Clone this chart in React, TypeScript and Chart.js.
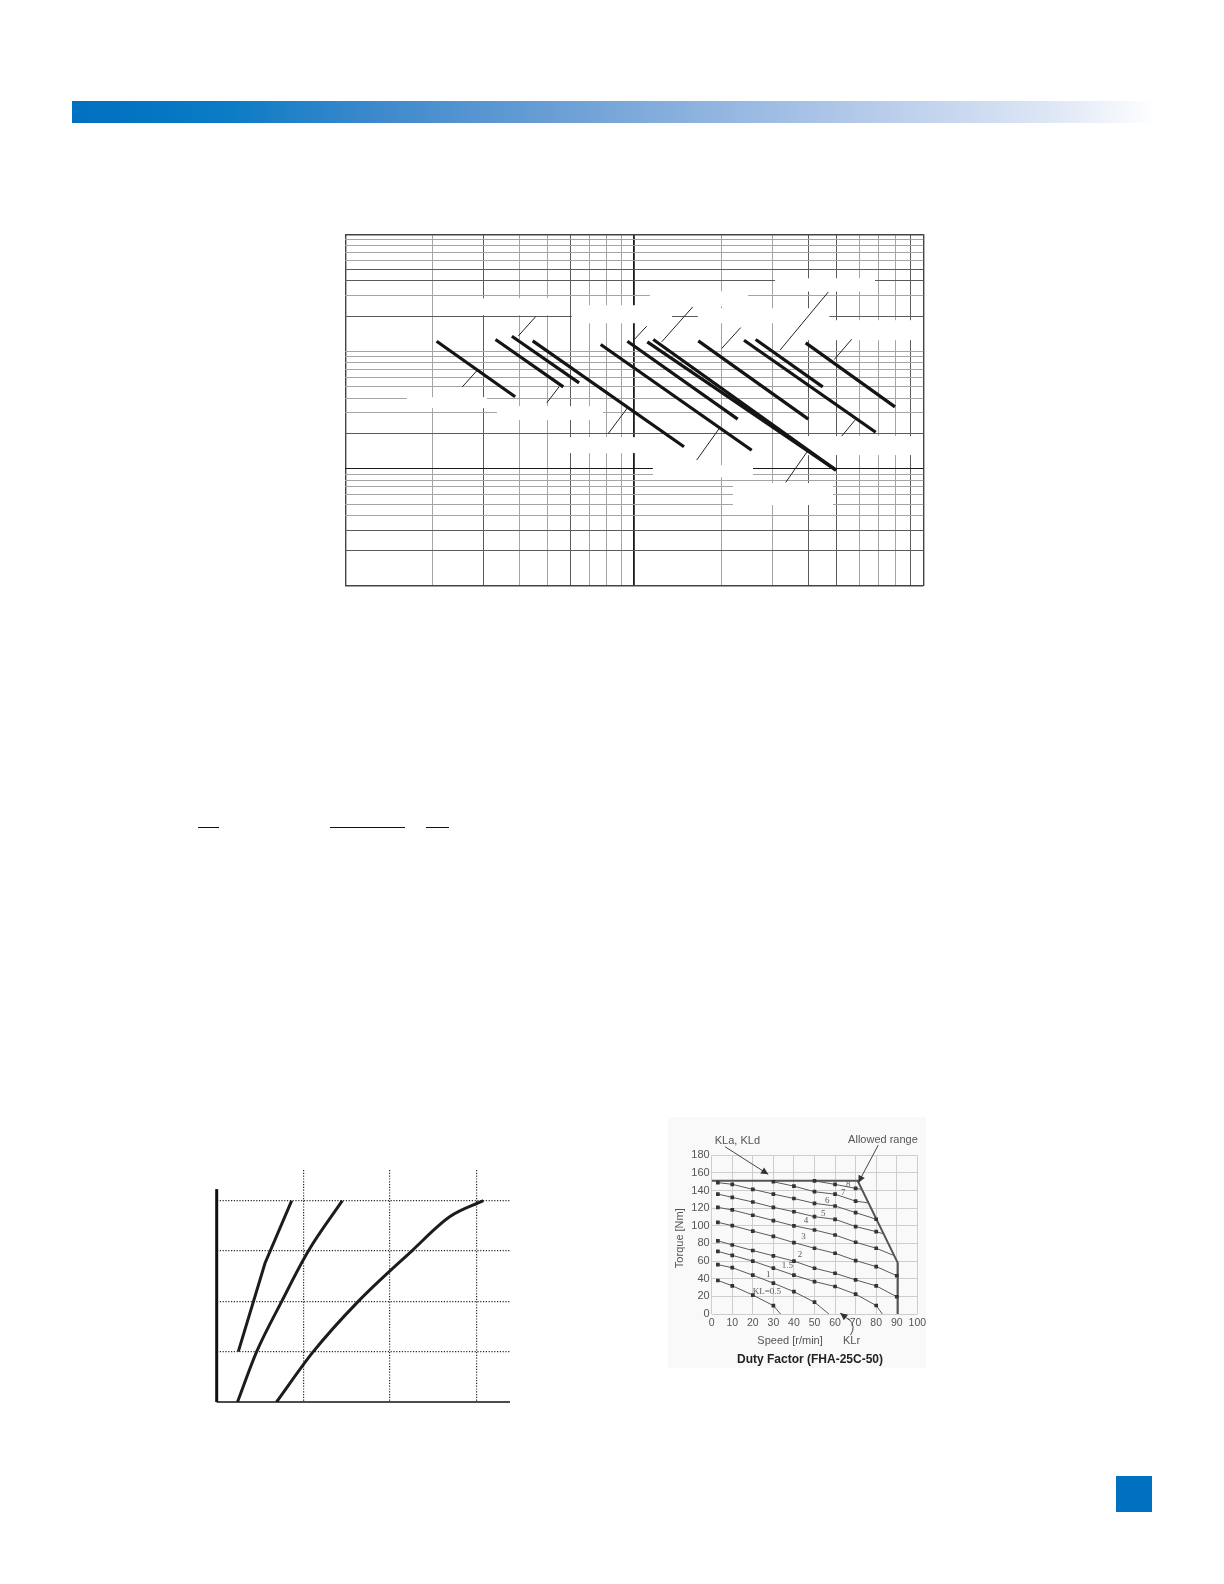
import React, { useEffect, useRef } from "react";
import { Chart, registerables } from "chart.js";

Chart.register(...registerables);
Chart.defaults.font.family = "'Liberation Sans', Arial, sans-serif";

// ---------------- Log-log rating chart ----------------
const logXTicks = [1, 2, 3, 4, 5, 6, 7, 8, 9, 10, 20, 30, 40, 50, 60, 70, 80, 90, 100];
const logYTicks = [1, 2, 3, 4, 5, 6, 7, 8, 9, 10, 20, 30, 40, 50, 60, 70, 80, 90, 100, 200, 300, 400, 500, 600, 700, 800, 900, 1000];
const darkXTicks = [3, 6, 40, 50, 90];
const darkYTicks = [2, 3, 10, 20, 200, 400, 500];
// [x1, y1, x2, y2]
const ratingSegments = [
  [2.07, 122.5, 3.87, 41.1],
  [3.31, 126.6, 5.68, 50.0],
  [3.77, 135.1, 6.44, 54.0],
  [4.45, 123.2, 14.86, 15.4],
  [7.65, 114.8, 25.48, 14.4],
  [9.46, 122.5, 22.79, 26.5],
  [11.09, 120.9, 49.89, 9.74],
  [11.63, 126.6, 49.89, 9.74],
  [16.65, 123.2, 40.0, 26.5],
  [23.97, 124.9, 68.44, 20.5],
  [26.3, 126.6, 44.87, 50.0],
  [39.18, 118.5, 79.8, 33.75],
];
const leaderLines = [
  [4.56, 198.9, 3.97, 135.9],
  [2.85, 68.4, 2.54, 49.95],
  [5.49, 49.95, 4.98, 36.5],
  [9.49, 33.3, 8.13, 20.0],
  [11.04, 164.4, 10.0, 126.6],
  [15.93, 240.2, 12.44, 120.9],
  [23.35, 160.2, 20.06, 106.2],
  [46.92, 322.3, 31.93, 102.7],
  [56.53, 127.4, 49.2, 85.5],
  [19.68, 22.1, 16.44, 11.86],
  [40.0, 14.43, 33.41, 7.65],
  [58.03, 25.98, 52.2, 18.98],
];
// blank label areas [x1, x2, yTop, yBottom]
const labelMasks = [
  [2.06, 5.99, 284.8, 204.0],
  [6.08, 13.5, 248.3, 174.4],
  [11.33, 24.74, 326.7, 243.5],
  [16.6, 47.3, 234, 174.4],
  [30.69, 68.06, 421.8, 324.9],
  [39.5, 97.4, 185, 124.9],
  [1.635, 3.093, 40.8, 32.9],
  [3.349, 7.795, 34.2, 26.0],
  [5.666, 11.33, 18.62, 13.6],
  [11.6, 25.75, 10.75, 8.49],
  [21.95, 48.7, 7.55, 4.9],
  [39.5, 91.4, 18.98, 13.08],
];

// ---------------- Bottom-left curves ----------------
const curveA = [[0.249, 1], [0.557, 2.757], [0.865, 4]];
const curveB = [[0.24, 0], [0.461, 1], [0.75, 2], [1.057, 3], [1.449, 4]];
const curveC = [[0.69, 0], [1.114, 1], [1.633, 2], [2.249, 3], [2.691, 3.684], [3.075, 4]];
const curveXGrid = [1, 2, 3];
const curveYGrid = [1, 2, 3, 4];
const curveAxisTop = 4.23;

// ---------------- Duty factor chart ----------------
const kl05 = [[3, 38], [10, 32], [20, 21.5], [30, 9.5], [33.5, 0]];
const kl1 = [[3, 56], [10, 52.5], [20, 44], [30, 35], [40, 25.3], [50, 13.4], [57, 0]];
const kl15 = [[3, 71], [10, 66.5], [20, 60], [30, 52], [40, 44], [50, 36.8], [60, 31.2], [70, 22.5], [80, 9.6], [83, 0]];
const kl2 = [[3, 83], [10, 78.3], [20, 72], [30, 66], [40, 60], [50, 51.9], [60, 46.2], [70, 38.7], [80, 31.9], [90, 19.6]];
const kl3 = [[3, 104], [10, 100.2], [20, 94], [30, 88], [40, 81], [50, 74.6], [60, 68.9], [70, 60.6], [80, 53.8], [90, 43.4]];
const kl4 = [[3, 121], [10, 118], [20, 112], [30, 106], [40, 100], [50, 95.3], [60, 89.6], [70, 81.4], [80, 74.6], [89, 66]];
const kl5 = [[3, 136], [10, 132.3], [20, 127], [30, 121], [40, 116], [50, 110.4], [60, 107.4], [70, 99.2], [80, 93.4], [83.5, 91]];
const kl6 = [[3, 149], [10, 147.1], [20, 141.4], [30, 136], [40, 131], [50, 125.5], [60, 122.5], [70, 115], [80, 107.5]];
const kl7 = [[30, 150], [40, 145], [50, 138.7], [60, 135.9], [70, 128], [76.3, 126]];
const kl8 = [[50, 151], [60, 147], [70, 142.5], [73, 141.5]];
const klCurves = [kl05, kl1, kl15, kl2, kl3, kl4, kl5, kl6, kl7, kl8];
const markerSpeeds = [3, 10, 20, 30, 40, 50, 60, 70, 80, 90];
const allowedRange = [[0, 151], [71, 151], [90.5, 58], [90.5, 0]];
const klLabels: [string, number, number][] = [
  ["8", 66.4, 146.3], ["7", 64, 137.6], ["6", 56.2, 128.2], ["5", 54.3, 113.4],
  ["4", 45.9, 105.5], ["3", 44.6, 87.7], ["2", 43, 66.9], ["1.5", 36.8, 54.4],
  ["1", 27.5, 44.2], ["KL=0.5", 26.8, 25.3],
];
const dutyTexts = [
  { text: "KLa, KLd", x: 12.5, y: 196.6, size: 11, bold: false, rotate: false },
  { text: "Allowed range", x: 83.3, y: 197.2, size: 11, bold: false, rotate: false },
  { text: "Speed [r/min]", x: 38.1, y: -30.6, size: 11, bold: false, rotate: false },
  { text: "KLr", x: 68, y: -30.6, size: 11, bold: false, rotate: false },
  { text: "Duty Factor (FHA-25C-50)", x: 47.8, y: -52.2, size: 12, bold: true, rotate: false },
  { text: "Torque [Nm]", x: -15.4, y: 86, size: 11, bold: false, rotate: true },
];
const dutyArrows = [
  { from: [6.5, 189.7], to: [27.5, 158.4] },
  { from: [81, 191.5], to: [71.3, 148.9] },
  { from: [67, -7], to: [62.5, 1] },
];

const toXY = (pts: number[][]) => pts.map((p) => ({ x: p[0], y: p[1] }));

function drawArrowHead(ctx: CanvasRenderingContext2D, sx: number, sy: number, ex: number, ey: number, size: number) {
  const a = Math.atan2(ey - sy, ex - sx);
  ctx.beginPath();
  ctx.moveTo(ex, ey);
  ctx.lineTo(ex - size * Math.cos(a - 0.45), ey - size * Math.sin(a - 0.45));
  ctx.lineTo(ex - size * Math.cos(a + 0.45), ey - size * Math.sin(a + 0.45));
  ctx.closePath();
  ctx.fill();
}

function logConfig(): any {
  const maskPlugin = {
    id: "masks",
    beforeDatasetsDraw(chart: any) {
      const { ctx, scales } = chart;
      ctx.save();
      ctx.fillStyle = "#ffffff";
      for (const m of labelMasks) {
        const x1 = scales.x.getPixelForValue(m[0]);
        const x2 = scales.x.getPixelForValue(m[1]);
        const y1 = scales.y.getPixelForValue(m[2]);
        const y2 = scales.y.getPixelForValue(m[3]);
        ctx.fillRect(x1, y1, x2 - x1, y2 - y1);
      }
      ctx.restore();
    },
  };
  const gridColor = (dark: number[], edge: number[]) => (c: any) => {
    const v = c.tick ? c.tick.value : 0;
    if (edge.includes(v)) return "#444";
    if (v === 10) return "#1a1a1a";
    return dark.includes(v) ? "#5a5a5a" : "#a4a4a4";
  };
  return {
    type: "line",
    data: {
      datasets: [
        ...ratingSegments.map((s) => ({
          data: [{ x: s[0], y: s[1] }, { x: s[2], y: s[3] }],
          borderColor: "#141414",
          borderWidth: 3.2,
          pointRadius: 0,
        })),
        ...leaderLines.map((s) => ({
          data: [{ x: s[0], y: s[1] }, { x: s[2], y: s[3] }],
          borderColor: "#222",
          borderWidth: 1,
          pointRadius: 0,
        })),
      ],
    },
    options: {
      animation: false,
      responsive: false,
      devicePixelRatio: 1,
      layout: { padding: { left: 10.3, right: 11.7, top: 10.3, bottom: 10 } },
      plugins: { legend: { display: false }, tooltip: { enabled: false } },
      scales: {
        x: {
          type: "logarithmic",
          min: 1,
          max: 100,
          afterBuildTicks: (s: any) => { s.ticks = logXTicks.map((v) => ({ value: v })); },
          ticks: { display: false },
          grid: {
            drawTicks: false,
            color: gridColor(darkXTicks, [1, 100]),
            lineWidth: (c: any) => (c.tick && (c.tick.value === 10) ? 1.8 : c.tick && (c.tick.value === 1 || c.tick.value === 100) ? 1.4 : 1),
          },
          border: { display: false },
        },
        y: {
          type: "logarithmic",
          min: 1,
          max: 1000,
          afterBuildTicks: (s: any) => { s.ticks = logYTicks.map((v) => ({ value: v })); },
          ticks: { display: false },
          grid: {
            drawTicks: false,
            color: gridColor(darkYTicks, [1, 1000]),
            lineWidth: (c: any) => (c.tick && (c.tick.value === 1 || c.tick.value === 1000) ? 1.4 : 1),
          },
          border: { display: false },
        },
      },
    },
    plugins: [maskPlugin],
  };
}

function curveConfig(): any {
  const axisPlugin = {
    id: "axes",
    afterDraw(chart: any) {
      const { ctx, scales } = chart;
      const x0 = scales.x.getPixelForValue(0);
      const y0 = scales.y.getPixelForValue(0);
      ctx.save();
      ctx.strokeStyle = "#111";
      ctx.lineWidth = 3;
      ctx.beginPath();
      ctx.moveTo(x0, y0);
      ctx.lineTo(x0, scales.y.getPixelForValue(curveAxisTop));
      ctx.stroke();
      ctx.lineWidth = 1.3;
      ctx.beginPath();
      ctx.moveTo(x0, y0);
      ctx.lineTo(scales.x.getPixelForValue(scales.x.max), y0);
      ctx.stroke();
      ctx.restore();
    },
  };
  const ds = (pts: number[][], smooth: boolean) => ({
    data: toXY(pts),
    borderColor: "#1c1c1c",
    borderWidth: 3,
    pointRadius: 0,
    tension: smooth ? 0.4 : 0,
    cubicInterpolationMode: smooth ? "monotone" : "default",
  });
  return {
    type: "line",
    data: { datasets: [ds(curveA, false), ds(curveB, true), ds(curveC, true)] },
    options: {
      animation: false,
      responsive: false,
      devicePixelRatio: 1,
      layout: { padding: { left: 10.7, right: 10, top: 10, bottom: 10 } },
      plugins: { legend: { display: false }, tooltip: { enabled: false } },
      scales: {
        x: {
          type: "linear",
          min: 0,
          max: 3.383,
          afterBuildTicks: (s: any) => { s.ticks = curveXGrid.map((v) => ({ value: v })); },
          ticks: { display: false },
          grid: { drawTicks: false, color: "#2a2a2a", lineWidth: 1.2 },
          border: { display: false, dash: [1.2, 1.6] },
        },
        y: {
          type: "linear",
          min: 0,
          max: 4.61,
          afterBuildTicks: (s: any) => { s.ticks = curveYGrid.map((v) => ({ value: v })); },
          ticks: { display: false },
          grid: { drawTicks: false, color: "#2a2a2a", lineWidth: 1.2 },
          border: { display: false, dash: [1.2, 1.6] },
        },
      },
    },
    plugins: [axisPlugin],
  };
}

function dutyConfig(): any {
  const annPlugin = {
    id: "dutyAnn",
    afterDraw(chart: any) {
      const { ctx, scales } = chart;
      const px = (v: number) => scales.x.getPixelForValue(v);
      const py = (v: number) => scales.y.getPixelForValue(v);
      ctx.save();
      ctx.fillStyle = "#5a5a5a";
      ctx.textAlign = "center";
      ctx.textBaseline = "middle";
      ctx.font = "9px 'Liberation Serif', serif";
      for (const [t, vx, vy] of klLabels) ctx.fillText(t, px(vx), py(vy));
      for (const a of dutyTexts) {
        ctx.font = `${a.bold ? "bold " : ""}${a.size}px 'Liberation Sans', Arial, sans-serif`;
        ctx.fillStyle = a.bold ? "#222" : "#555";
        if (a.rotate) {
          ctx.save();
          ctx.translate(px(a.x), py(a.y));
          ctx.rotate(-Math.PI / 2);
          ctx.fillText(a.text, 0, 0);
          ctx.restore();
        } else {
          ctx.fillText(a.text, px(a.x), py(a.y));
        }
      }
      ctx.strokeStyle = "#444";
      ctx.fillStyle = "#333";
      ctx.lineWidth = 1;
      for (const ar of dutyArrows) {
        const sx = px(ar.from[0]), sy = py(ar.from[1]);
        const ex = px(ar.to[0]), ey = py(ar.to[1]);
        ctx.beginPath();
        ctx.moveTo(sx, sy);
        ctx.lineTo(ex, ey);
        ctx.stroke();
        drawArrowHead(ctx, sx, sy, ex, ey, 8);
      }
      // KLr bracket
      ctx.beginPath();
      ctx.moveTo(px(66.5), py(-5));
      ctx.quadraticCurveTo(px(70.5), py(-14), px(67.5), py(-24));
      ctx.stroke();
      ctx.restore();
    },
  };
  const isMarker = (c: any) => (c.raw && markerSpeeds.includes(c.raw.x) ? 2.6 : 0);
  return {
    type: "line",
    data: {
      datasets: [
        ...klCurves.map((pts) => ({
          data: toXY(pts),
          borderColor: "#5a5a5a",
          borderWidth: 1,
          pointStyle: "rect",
          pointRadius: isMarker,
          pointBackgroundColor: "#333",
          pointBorderWidth: 0,
        })),
        {
          data: toXY(allowedRange),
          borderColor: "#555",
          borderWidth: 2,
          pointRadius: 0,
        },
      ],
    },
    options: {
      animation: false,
      responsive: false,
      devicePixelRatio: 1,
      layout: { padding: { left: 4, right: 12.7, top: 41.3, bottom: 42 } },
      plugins: { legend: { display: false }, tooltip: { enabled: false } },
      scales: {
        x: {
          type: "linear",
          min: 0,
          max: 100,
          ticks: { stepSize: 10, autoSkip: false, color: "#555", font: { size: 10.5 }, padding: 3, maxRotation: 0 },
          grid: { drawTicks: false, color: "#cdcdcd", lineWidth: 1 },
          border: { display: false },
          afterFit: (s: any) => { s.height = 18; },
        },
        y: {
          type: "linear",
          min: 0,
          max: 180,
          ticks: { stepSize: 20, autoSkip: false, color: "#555", font: { size: 11 }, padding: 2 },
          grid: { drawTicks: false, color: "#cdcdcd", lineWidth: 1 },
          border: { display: false },
          afterFit: (s: any) => { s.width = 43.7; },
        },
      },
    },
    plugins: [annPlugin],
  };
}

function CanvasChart(props: { left: number; top: number; width: number; height: number; make: () => any }) {
  const ref = useRef<HTMLCanvasElement | null>(null);
  useEffect(() => {
    if (!ref.current) return;
    const chart = new Chart(ref.current, props.make());
    return () => chart.destroy();
  }, []);
  return (
    <canvas
      ref={ref}
      width={props.width}
      height={props.height}
      style={{ position: "absolute", left: props.left, top: props.top, width: props.width, height: props.height }}
    />
  );
}

export default function App() {
  const rule = (left: number, width: number) => (
    <div style={{ position: "absolute", left, top: 826.5, width, height: 1.5, background: "#111" }} />
  );
  return (
    <div style={{ position: "absolute", left: 0, top: 0, width: 1224, height: 1584, background: "#fff", overflow: "hidden" }}>
      <div
        style={{
          position: "absolute",
          left: 72,
          top: 101,
          width: 1085,
          height: 22,
          background:
            "linear-gradient(to right, #0070c0 0%, #0a7bc4 14%, #3d89cc 28%, #6b9fd5 45%, #93b6e0 60%, #b9cdeb 75%, #dde6f5 90%, #ffffff 100%)",
        }}
      />
      <CanvasChart left={335} top={224} width={600} height={372} make={logConfig} />
      {rule(198, 21)}
      {rule(330, 75)}
      {rule(426, 23)}
      <CanvasChart left={206} top={1160} width={314} height={252} make={curveConfig} />
      <div style={{ position: "absolute", left: 668, top: 1117, width: 258, height: 251, background: "#f9f9f9" }} />
      <CanvasChart left={664} top={1114} width={266} height={260} make={dutyConfig} />
      <div style={{ position: "absolute", left: 1116, top: 1476, width: 36, height: 36, background: "#0070c0" }} />
    </div>
  );
}
